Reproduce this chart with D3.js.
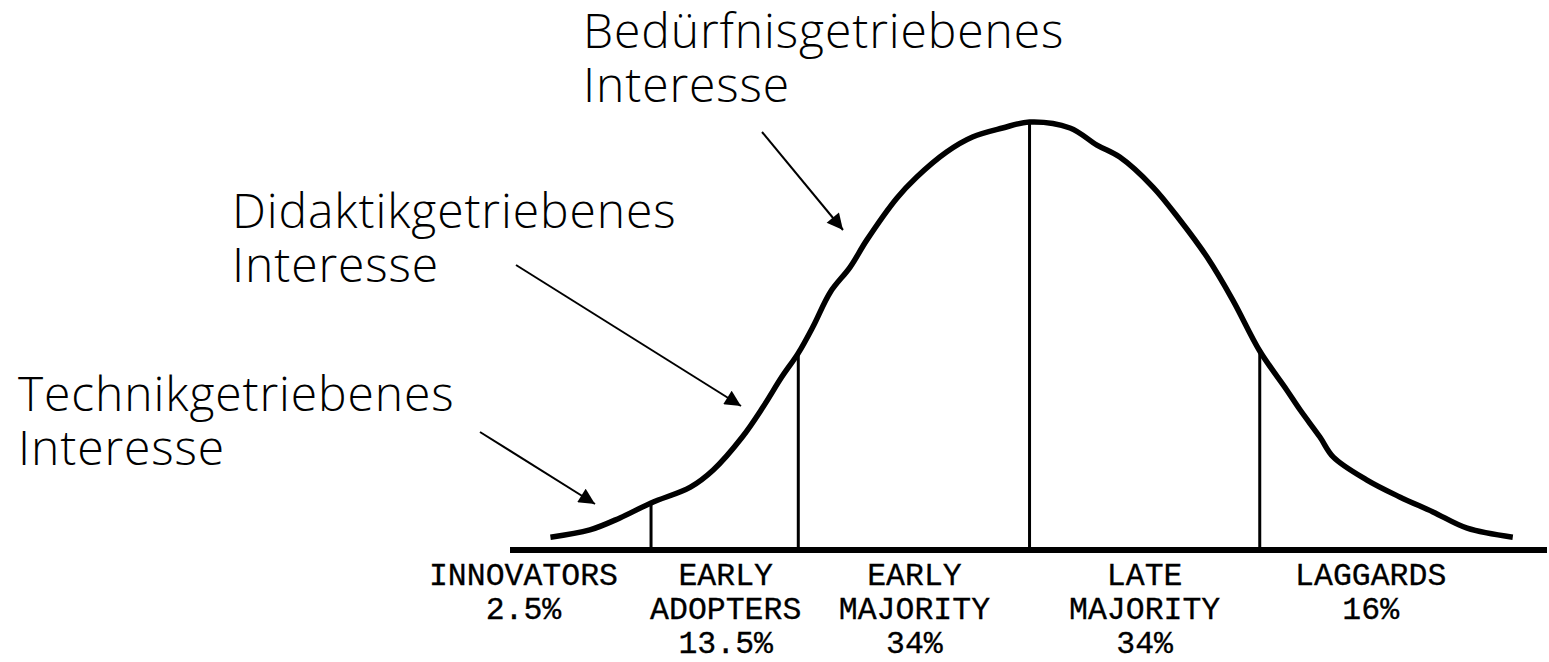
<!DOCTYPE html>
<html>
<head>
  <meta charset="utf-8">
  <title>Adoptionskurve</title>
  <style>
    body { margin: 0; background: #fff; }
    .note { font-family: "Open Sans", "Liberation Sans", sans-serif; font-size: 48px; font-weight: 300; letter-spacing: 0.9px; fill: #000; }
    .seg { font-family: "Liberation Mono", "DejaVu Sans Mono", monospace; font-size: 31.5px; fill: #000; stroke: #000; stroke-width: 0.3px; text-anchor: middle; }
  </style>
  <script src="https://d3js.org/d3.v7.min.js"></script>
</head>
<body>
<script>
// curve: position along adoption axis (0-100) and relative height (peak = 100)
var curveX = [3.9, 7.7, 10.6, 13.6, 17.4, 19.6, 22.4, 24.4, 26.2, 27.8, 29.2, 30.9, 32.8, 34.4, 37.3, 39.2, 42.1, 44.6, 47.5, 50.1,
              54.0, 56.6, 58.8, 62.0, 64.6, 67.2, 69.7, 72.3, 74.9, 76.2, 78.1, 79.4, 82.6, 85.8, 89.0, 92.3, 96.7];
var curveY = [3.0, 4.7, 7.5, 11.0, 14.7, 18.7, 26.4, 33.4, 40.4, 46.0, 52.1, 60.3, 66.1, 72.4, 82.2, 87.1, 93.0, 96.5, 98.6, 100,
              98.6, 94.6, 91.8, 84.8, 77.1, 68.5, 58.4, 46.5, 37.4, 32.7, 26.4, 21.7, 16.4, 12.4, 8.9, 5.1, 3.0];

// group borders and label centres on the same axis
var dividers = [13.6, 27.8, 50.1, 72.3];
var groupCenters = [1.3, 20.8, 39.0, 61.2, 83.0];
var groupNames = [["INNOVATORS"], ["EARLY", "ADOPTERS"], ["EARLY", "MAJORITY"], ["LATE", "MAJORITY"], ["LAGGARDS"]];
var groupShares = ["2.5%", "13.5%", "34%", "34%", "16%"];

// annotations (text lines)
var noteLines = [["Bedürfnisgetriebenes", "Interesse"], ["Didaktikgetriebenes", "Interesse"], ["Technikgetriebenes", "Interesse"]];

// layout of annotations in pixels
var noteLayout = [
  {x: 583, y: 48,  from: [762, 132], to: [843, 230]},
  {x: 232, y: 228, from: [516, 265], to: [741, 406]},
  {x: 18,  y: 411, from: [480, 432], to: [595, 504]}
];

var width = 1549, height = 662;
var svg = d3.select('body').append('svg')
  .attr('width', width)
  .attr('height', height);

var x = d3.scaleLinear().domain([0, 100]).range([510, 1547]);
var y = d3.scaleLinear().domain([0, 100]).range([550, 122]);

var points = curveX.map(function(d, i) { return [d, curveY[i]]; });

// height of the curve at a given position (linear interpolation)
function curveAt(v) {
  var i = d3.bisectLeft(curveX, v);
  if (i <= 0) return curveY[0];
  if (i >= curveX.length) return curveY[curveY.length - 1];
  var t = (v - curveX[i - 1]) / (curveX[i] - curveX[i - 1]);
  return curveY[i - 1] + t * (curveY[i] - curveY[i - 1]);
}

// dividers
svg.selectAll('line.div')
  .data(dividers)
  .enter()
  .append('line')
  .attr('class', 'div')
  .attr('x1', d => x(d)).attr('x2', d => x(d))
  .attr('y1', y(0)).attr('y2', d => y(curveAt(d)))
  .attr('stroke', '#000')
  .attr('stroke-width', 3);

// baseline
svg.append('line')
  .attr('x1', x(0)).attr('x2', x(100))
  .attr('y1', y(0)).attr('y2', y(0))
  .attr('stroke', '#000')
  .attr('stroke-width', 6);

// bell curve
var line = d3.line()
  .x(d => x(d[0]))
  .y(d => y(d[1]))
  .curve(d3.curveCatmullRom);

svg.append('path')
  .datum(points)
  .attr('d', line)
  .attr('fill', 'none')
  .attr('stroke', '#000')
  .attr('stroke-width', 5.5)
  .attr('stroke-linejoin', 'round');

// group labels under the axis
var seg = svg.selectAll('text.seg')
  .data(groupNames)
  .enter()
  .append('text')
  .attr('class', 'seg')
  .attr('x', (d, i) => x(groupCenters[i]))
  .attr('y', 585);
seg.selectAll('tspan')
  .data((d, i) => d.concat([groupShares[i]]))
  .enter()
  .append('tspan')
  .attr('x', function() { return d3.select(this.parentNode).attr('x'); })
  .attr('dy', (d, i) => i === 0 ? 0 : 34)
  .text(d => d);

// arrow head
svg.append('defs').append('marker')
  .attr('id', 'head')
  .attr('viewBox', '0 0 10 10')
  .attr('refX', 10).attr('refY', 5)
  .attr('markerWidth', 9).attr('markerHeight', 8)
  .attr('markerUnits', 'strokeWidth')
  .attr('orient', 'auto')
  .append('path')
  .attr('d', 'M0,0L10,5L0,10Z')
  .attr('fill', '#000');

// annotations
var notes = svg.selectAll('g.note')
  .data(noteLines)
  .enter()
  .append('g')
  .attr('class', 'note');

notes.append('text')
  .attr('class', 'note')
  .attr('x', (d, i) => noteLayout[i].x)
  .attr('y', (d, i) => noteLayout[i].y)
  .each(function(d, i) {
    var t = d3.select(this);
    d.forEach(function(s, j) {
      t.append('tspan')
        .attr('x', noteLayout[i].x)
        .attr('dy', j === 0 ? 0 : 54)
        .text(s);
    });
  });

notes.append('line')
  .attr('x1', (d, i) => noteLayout[i].from[0])
  .attr('y1', (d, i) => noteLayout[i].from[1])
  .attr('x2', (d, i) => noteLayout[i].to[0])
  .attr('y2', (d, i) => noteLayout[i].to[1])
  .attr('stroke', '#000')
  .attr('stroke-width', 2)
  .attr('marker-end', 'url(#head)');
</script>
</body>
</html>
